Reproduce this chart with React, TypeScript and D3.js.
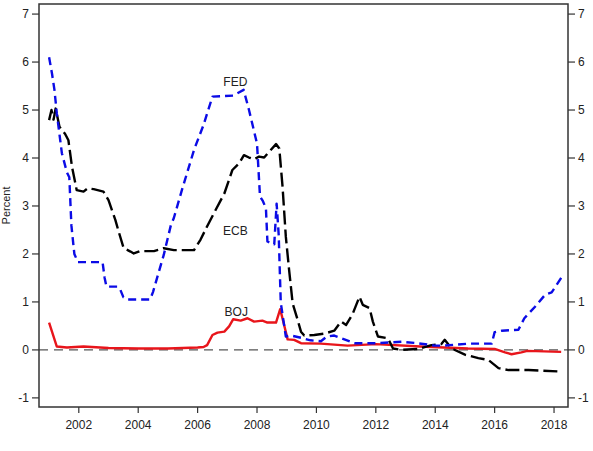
import React from "react";
import * as d3 from "d3";

const fedData: [number, number][] = [
  [2001.0, 6.1], [2001.1, 5.75], [2001.18, 5.42], [2001.26, 4.93], [2001.43, 4.1], [2001.6, 3.7],
  [2001.68, 3.6], [2001.75, 2.6], [2001.85, 2.0], [2001.97, 1.83], [2002.8, 1.83], [2002.87, 1.5],
  [2002.93, 1.32], [2003.3, 1.32], [2003.4, 1.25], [2003.5, 1.1], [2003.65, 1.05], [2004.4, 1.05],
  [2004.5, 1.21], [2004.86, 1.98], [2005.1, 2.6], [2005.2, 2.75], [2005.48, 3.35], [2005.88, 4.17],
  [2006.2, 4.69], [2006.5, 5.28], [2007.2, 5.3], [2007.55, 5.42], [2007.73, 5.0], [2008.0, 4.3],
  [2008.1, 3.2], [2008.2, 3.1], [2008.3, 2.95], [2008.35, 2.26], [2008.58, 2.2], [2008.66, 3.05],
  [2008.73, 2.4], [2008.8, 0.98], [2008.97, 0.28], [2009.14, 0.3], [2009.5, 0.25], [2009.8, 0.2],
  [2010.15, 0.18], [2010.35, 0.28], [2010.6, 0.3], [2010.94, 0.22], [2011.28, 0.14], [2012.0, 0.14],
  [2012.86, 0.17], [2013.4, 0.14], [2013.98, 0.09], [2014.32, 0.09], [2015.1, 0.13], [2015.9, 0.13],
  [2016.0, 0.37], [2016.24, 0.4], [2016.8, 0.42], [2017.0, 0.66], [2017.36, 0.9], [2017.7, 1.15],
  [2017.92, 1.2], [2018.24, 1.5],
];

const ecbData: [number, number][] = [
  [2001.0, 4.79], [2001.08, 5.0], [2001.15, 4.8], [2001.22, 5.03], [2001.35, 4.65], [2001.54, 4.5],
  [2001.65, 4.37], [2001.77, 3.82], [2001.93, 3.33], [2002.16, 3.3], [2002.3, 3.37], [2002.5, 3.35],
  [2002.83, 3.3], [2003.0, 3.12], [2003.23, 2.71], [2003.35, 2.45], [2003.51, 2.12], [2003.74, 2.05],
  [2003.85, 2.01], [2004.07, 2.06], [2004.53, 2.06], [2004.86, 2.12], [2005.2, 2.08], [2005.88, 2.08],
  [2006.1, 2.3], [2006.3, 2.55], [2006.55, 2.85], [2006.9, 3.26], [2007.17, 3.75], [2007.4, 3.89],
  [2007.56, 4.06], [2007.73, 4.01], [2007.9, 3.97], [2008.07, 4.03], [2008.24, 4.01], [2008.41, 4.13],
  [2008.64, 4.29], [2008.75, 4.2], [2008.86, 3.4], [2008.97, 2.36], [2009.08, 1.67], [2009.2, 0.97],
  [2009.37, 0.62], [2009.48, 0.38], [2009.59, 0.3], [2009.93, 0.31], [2010.27, 0.34], [2010.6, 0.4],
  [2010.83, 0.59], [2011.0, 0.52], [2011.22, 0.75], [2011.45, 1.11], [2011.56, 0.94], [2011.79, 0.87],
  [2011.9, 0.59], [2012.07, 0.28], [2012.41, 0.24], [2012.58, 0.03], [2012.86, 0.0], [2013.42, 0.02],
  [2013.87, 0.1], [2014.2, 0.12], [2014.32, 0.21], [2014.55, 0.03], [2015.0, -0.1], [2015.45, -0.17],
  [2015.79, -0.21], [2016.13, -0.38], [2016.47, -0.42], [2017.14, -0.42], [2018.24, -0.45],
];

const bojData: [number, number][] = [
  [2001.0, 0.57], [2001.26, 0.07], [2001.6, 0.05], [2002.16, 0.07], [2003.0, 0.04], [2004.0, 0.03],
  [2005.0, 0.03], [2006.0, 0.05], [2006.2, 0.06], [2006.32, 0.1], [2006.5, 0.31], [2006.67, 0.36],
  [2006.9, 0.38], [2007.06, 0.49], [2007.2, 0.64], [2007.45, 0.61], [2007.68, 0.66], [2007.9, 0.59],
  [2008.18, 0.61], [2008.35, 0.57], [2008.64, 0.57], [2008.78, 0.85], [2008.9, 0.55], [2009.03, 0.22],
  [2009.25, 0.21], [2009.48, 0.14], [2010.15, 0.13], [2011.05, 0.09], [2012.0, 0.12], [2013.5, 0.07],
  [2015.1, 0.03], [2016.0, 0.02], [2016.35, -0.05], [2016.57, -0.09], [2016.9, -0.05], [2017.1, -0.02],
  [2018.24, -0.04],
];

const xTicks = [2002, 2004, 2006, 2008, 2010, 2012, 2014, 2016, 2018];
const yTicks = [-1, 0, 1, 2, 3, 4, 5, 6, 7];

const seriesLabels = [
  { name: "FED", year: 2007.27, value: 5.58 },
  { name: "ECB", year: 2007.27, value: 2.48 },
  { name: "BOJ", year: 2007.3, value: 0.79 },
];

export default function App() {
  const W = 593, H = 451;
  const left = 39, right = 568, top = 4, bottom = 407;
  const x = d3.scaleLinear().domain([2000.66, 2018.47]).range([left, right]);
  const y = d3.scaleLinear().domain([-1.19, 7.21]).range([bottom, top]);
  const line = d3.line<[number, number]>().x((d) => x(d[0])).y((d) => y(d[1]));
  const font = "Liberation Sans, Arial, sans-serif";
  const tickColor = "#333";

  return (
    <svg width={W} height={H} style={{ position: "absolute", left: 0, top: 0, background: "#fff" }}>
      <rect x={0} y={0} width={W} height={H} fill="#fff" />
      {/* zero line */}
      <line x1={left} x2={right} y1={y(0)} y2={y(0)} stroke="#555" strokeWidth={1.2} strokeDasharray="9,6" />
      {/* series */}
      <path d={line(bojData) || ""} fill="none" stroke="#e8151b" strokeWidth={2.4} strokeLinejoin="round" />
      <path d={line(ecbData) || ""} fill="none" stroke="#000" strokeWidth={2.4} strokeDasharray="14,5" strokeLinejoin="round" />
      <path d={line(fedData) || ""} fill="none" stroke="#0b0be6" strokeWidth={2.4} strokeDasharray="8,5" strokeLinejoin="round" />
      {/* frame */}
      <rect x={left} y={top} width={right - left} height={bottom - top} fill="none" stroke={tickColor} strokeWidth={1.5} />
      {/* y ticks left and right */}
      {yTicks.map((t) => (
        <g key={"y" + t}>
          <line x1={left - 7} x2={left} y1={y(t)} y2={y(t)} stroke={tickColor} strokeWidth={1.2} />
          <text x={left - 10} y={y(t)} dy="0.35em" textAnchor="end" fontFamily={font} fontSize={12} fill="#222">
            {t}
          </text>
          <line x1={right} x2={right + 7} y1={y(t)} y2={y(t)} stroke={tickColor} strokeWidth={1.2} />
          <text x={right + 10} y={y(t)} dy="0.35em" textAnchor="start" fontFamily={font} fontSize={12} fill="#222">
            {t}
          </text>
        </g>
      ))}
      {/* x ticks */}
      {xTicks.map((t) => (
        <g key={"x" + t}>
          <line x1={x(t)} x2={x(t)} y1={bottom} y2={bottom + 6} stroke={tickColor} strokeWidth={1.2} />
          <text x={x(t)} y={bottom + 22} textAnchor="middle" fontFamily={font} fontSize={12} fill="#222">
            {t}
          </text>
        </g>
      ))}
      {/* y axis title */}
      <text transform={`translate(10,${(top + bottom) / 2}) rotate(-90)`} textAnchor="middle" fontFamily={font} fontSize={11} fill="#222">
        Percent
      </text>
      {/* series labels */}
      {seriesLabels.map((l) => (
        <text key={l.name} x={x(l.year)} y={y(l.value)} dy="0.35em" textAnchor="middle" fontFamily={font} fontSize={12} fill="#222">
          {l.name}
        </text>
      ))}
    </svg>
  );
}
